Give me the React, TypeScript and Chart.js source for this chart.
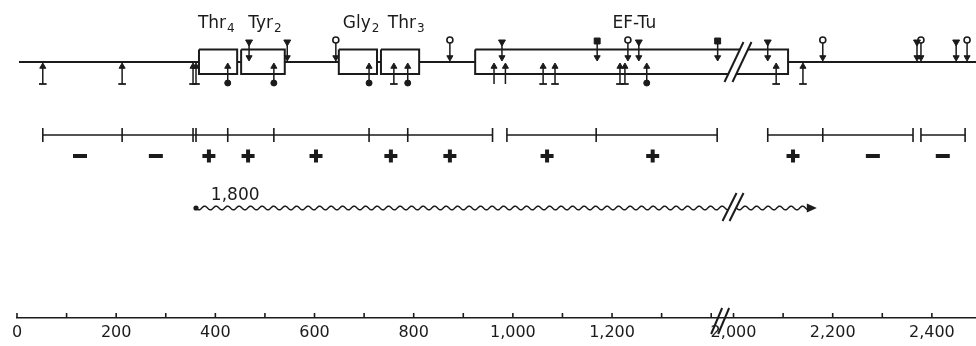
import { useEffect, useRef } from 'react';
import { Chart, registerables } from 'chart.js';

Chart.register(...registerables);

const INK = '#1b1b1b';

// ---------- data (positions in base pairs) ----------
const axisLabelTicks = [0, 200, 400, 600, 800, 1000, 1200, 2000, 2200, 2400];
const axisMinorTicks = [0, 100, 200, 300, 400, 500, 600, 700, 800, 900, 1000, 1100, 1200, 1300, 1400, 2000, 2100, 2200, 2300, 2400];
const axisBreak = 1418;

const geneStart = 4;
const geneEnd = 2489;
const geneNames = ['Thr', 'Tyr', 'Gly', 'Thr', 'EF-Tu'];
const geneSubscripts = ['4', '2', '2', '3', ''];
const geneStarts = [367, 452, 649, 734, 924];
const geneEnds = [444, 540, 726, 811, 2110];
const geneLabelCenters = [402, 500, 694, 785, 1245];
const geneBreak = 2009;

const upSites = [52, 212, 355, 361, 425, 518, 710, 760, 788, 962, 985, 1061, 1085, 1216, 1226, 1270, 2086, 2140];
const upTails = ['bar', 'bar', 'bar', 'bar', 'dot', 'dot', 'dot', 'bar', 'dot', 'none', 'none', 'bar', 'bar', 'bar', 'bar', 'dot', 'bar', 'bar'];
const downSites = [468, 545, 643, 873, 978, 1170, 1232, 1254, 1413, 2069, 2180, 2370, 2378, 2449, 2471];
const downHeads = ['tri', 'tri', 'circ', 'circ', 'tri', 'sq', 'circ', 'tri', 'sq', 'tri', 'circ', 'tri', 'circ', 'tri', 'circ'];

const fragmentRuns = [
  [52, 212, 355, 361, 425, 518, 710, 788, 959],
  [988, 1168, 1412],
  [2069, 2180, 2362],
  [2378, 2467],
];
const chargePositions = [127, 280, 387, 466, 603, 754, 873, 1069, 1282, 2120, 2281, 2422];
const chargeSigns = ['-', '-', '+', '+', '+', '+', '+', '+', '+', '+', '-', '-'];

const transcriptStart = 361;
const transcriptEnd = 2168;
const transcriptLabel = '1,800';
const transcriptLabelCenter = 440;
const transcriptBreak = 1999;

// ---------- layout (vertical levels, chart y units) ----------
const Y_LABEL = 28;
const Y_TAIL = 41;
const Y_DOWN_TIP = 61;
const Y_GENE = 62;
const Y_BOX_TOP = 49.5;
const Y_BOX_BOT = 74;
const Y_UP_TIP = 63;
const Y_UP_BASE = 84;
const Y_FRAG = 135;
const Y_SIGN = 156;
const Y_WAVE_LABEL = 200;
const Y_WAVE = 208;
const Y_AXIS = 318;

// axis break: stretch 1400..2000 bp is collapsed
const toDisp = (r: number) => (r > 1700 ? r - 555 : r);
const toReal = (d: number) => (d > 1440 ? d + 555 : d);

type Pt = { x: number; y: number | null };
const pt = (r: number, y: number | null): Pt => ({ x: toDisp(r), y });

function buildGeneLine(): Pt[] {
  const out: Pt[] = [];
  const starts = [geneStart, ...geneEnds];
  const ends = [...geneStarts, geneEnd];
  starts.forEach((s, i) => {
    out.push(pt(s, Y_GENE), pt(ends[i], Y_GENE), pt(ends[i], null));
  });
  return out;
}

function buildBoxes(): Pt[] {
  const out: Pt[] = [];
  geneStarts.forEach((s, i) => {
    const e = geneEnds[i];
    out.push(pt(s, Y_BOX_TOP), pt(e, Y_BOX_TOP), pt(e, Y_BOX_BOT), pt(s, Y_BOX_BOT), pt(s, Y_BOX_TOP), pt(s, null));
  });
  return out;
}

function stems(sites: number[], a: number, b: number): Pt[] {
  const out: Pt[] = [];
  sites.forEach((s) => out.push(pt(s, a), pt(s, b), pt(s, null)));
  return out;
}

const lineDs = (data: Pt[], width: number) => ({
  data,
  showLine: true,
  spanGaps: false,
  borderColor: INK,
  borderWidth: width,
  pointRadius: 0,
  borderCapStyle: 'butt',
  borderJoinStyle: 'miter',
  fill: false,
  clip: false,
  order: 5,
});

const pointDs = (data: Pt[], style: string, radius: number, rotation: number, fillColor: string, bw: number) => ({
  data,
  showLine: false,
  pointStyle: style,
  pointRadius: radius,
  pointHoverRadius: radius,
  pointRotation: rotation,
  pointBackgroundColor: fillColor,
  pointBorderColor: INK,
  pointBorderWidth: bw,
  clip: false,
  order: 1,
});

function slashes(ctx: CanvasRenderingContext2D, cx: number, cy: number, halfH: number, dx: number, gap: number, erase: boolean) {
  ctx.save();
  if (erase) {
    ctx.fillStyle = '#ffffff';
    ctx.beginPath();
    ctx.moveTo(cx - gap / 2 - dx, cy + halfH);
    ctx.lineTo(cx + gap / 2 - dx, cy + halfH);
    ctx.lineTo(cx + gap / 2 + dx, cy - halfH);
    ctx.lineTo(cx - gap / 2 + dx, cy - halfH);
    ctx.closePath();
    ctx.fill();
  }
  ctx.strokeStyle = INK;
  ctx.lineWidth = 2;
  ctx.lineCap = 'butt';
  [-gap / 2, gap / 2].forEach((o) => {
    ctx.beginPath();
    ctx.moveTo(cx + o - dx, cy + halfH);
    ctx.lineTo(cx + o + dx, cy - halfH);
    ctx.stroke();
  });
  ctx.restore();
}

const decorPlugin = {
  id: 'decor',
  afterDatasetsDraw(chart: any) {
    const { ctx } = chart;
    const xs = chart.scales.x;
    const ys = chart.scales.y;
    const X = (r: number) => xs.getPixelForValue(toDisp(r));
    const Yp = (v: number) => ys.getPixelForValue(v);

    // transcript (wavy arrow)
    const sx = X(transcriptStart);
    const ex = X(transcriptEnd);
    const wy = Yp(Y_WAVE);
    const bx = X(transcriptBreak);
    ctx.save();
    ctx.strokeStyle = INK;
    ctx.lineWidth = 1.5;
    ctx.beginPath();
    const endWave = ex - 8;
    for (let px = sx; px <= endWave; px += 0.5) {
      const yy = wy + 1.8 * Math.sin(((px - sx) / 11.5) * Math.PI * 2);
      if (px === sx) ctx.moveTo(px, yy);
      else ctx.lineTo(px, yy);
    }
    ctx.stroke();
    ctx.fillStyle = INK;
    ctx.beginPath();
    ctx.arc(sx, wy, 2.6, 0, Math.PI * 2);
    ctx.fill();
    ctx.beginPath();
    ctx.moveTo(ex, wy);
    ctx.lineTo(ex - 10, wy - 4.5);
    ctx.lineTo(ex - 10, wy + 4.5);
    ctx.closePath();
    ctx.fill();
    ctx.restore();
    slashes(ctx, bx, Yp(Y_WAVE - 1), 14, 7, 7, true);

    // gene-map break and axis break
    slashes(ctx, X(geneBreak), Yp(Y_GENE), 20, 9.5, 8, true);
    slashes(ctx, X(axisBreak), Yp(Y_AXIS + 3), 13, 5.5, 7, false);

    // labels
    ctx.save();
    ctx.fillStyle = INK;
    ctx.textBaseline = 'alphabetic';
    ctx.textAlign = 'left';
    const mainFont = '17px "DejaVu Sans"';
    const subFont = '12px "DejaVu Sans"';
    geneNames.forEach((name, i) => {
      ctx.font = mainFont;
      const w1 = ctx.measureText(name).width;
      ctx.font = subFont;
      const w2 = geneSubscripts[i] ? ctx.measureText(geneSubscripts[i]).width + 1 : 0;
      const left = X(geneLabelCenters[i]) - (w1 + w2) / 2;
      ctx.font = mainFont;
      ctx.fillText(name, left, Yp(Y_LABEL));
      if (geneSubscripts[i]) {
        ctx.font = subFont;
        ctx.fillText(geneSubscripts[i], left + w1 + 1, Yp(Y_LABEL + 4));
      }
    });
    ctx.font = '17px "DejaVu Sans"';
    ctx.textAlign = 'center';
    ctx.fillText(transcriptLabel, X(transcriptLabelCenter), Yp(Y_WAVE_LABEL));
    ctx.restore();
  },
};

export default function App() {
  const ref = useRef<HTMLCanvasElement>(null);

  useEffect(() => {
    const canvas = ref.current;
    if (!canvas) return;

    const fragLines: Pt[] = [];
    const fragTicks: Pt[] = [];
    fragmentRuns.forEach((run) => {
      fragLines.push(pt(run[0], Y_FRAG), pt(run[run.length - 1], Y_FRAG), pt(run[0], null));
      run.forEach((p) => fragTicks.push(pt(p, Y_FRAG)));
    });

    const upHeadR = 3.5;
    const downHeadR = 3.5;

    const datasets: any[] = [
      // symbols (drawn on top)
      pointDs(upSites.map((s) => pt(s, Y_UP_TIP + upHeadR)), 'triangle', upHeadR, 0, INK, 1),
      pointDs(downSites.map((s) => pt(s, Y_DOWN_TIP - downHeadR)), 'triangle', downHeadR, 180, INK, 1),
      pointDs(upSites.filter((_, i) => upTails[i] === 'bar').map((s) => pt(s, Y_UP_BASE)), 'line', 3.8, 0, INK, 1.8),
      pointDs(upSites.filter((_, i) => upTails[i] === 'dot').map((s) => pt(s, Y_UP_BASE - 1)), 'circle', 3, 0, INK, 1),
      pointDs(downSites.filter((_, i) => downHeads[i] === 'tri').map((s) => pt(s, Y_TAIL + 1)), 'triangle', 4, 180, INK, 1),
      pointDs(downSites.filter((_, i) => downHeads[i] === 'circ').map((s) => pt(s, Y_TAIL - 1)), 'circle', 3, 0, '#ffffff', 1.6),
      pointDs(downSites.filter((_, i) => downHeads[i] === 'sq').map((s) => pt(s, Y_TAIL)), 'rect', 4.2, 0, INK, 1),
      pointDs(fragTicks, 'line', 7, 90, INK, 1.6),
      pointDs(chargePositions.filter((_, i) => chargeSigns[i] === '+').map((s) => pt(s, Y_SIGN)), 'cross', 6.5, 0, INK, 4),
      pointDs(chargePositions.filter((_, i) => chargeSigns[i] === '-').map((s) => pt(s, Y_SIGN)), 'line', 7, 0, INK, 4),
      pointDs(axisMinorTicks.map((s) => pt(s, Y_AXIS - 2.5)), 'line', 2.5, 90, INK, 1.6),
      // lines
      lineDs(buildGeneLine(), 2),
      lineDs(buildBoxes(), 2),
      lineDs(stems(upSites, Y_UP_BASE, Y_UP_TIP + 3), 1.5),
      lineDs(stems(downSites, Y_TAIL, Y_DOWN_TIP - 3), 1.5),
      lineDs(fragLines, 1.6),
    ];

    const chart = new Chart(canvas, {
      type: 'scatter',
      data: { datasets },
      plugins: [decorPlugin],
      options: {
        animation: false,
        responsive: false,
        events: [],
        layout: { autoPadding: false, padding: { left: 17, right: 0, top: 0, bottom: 0 } },
        plugins: { legend: { display: false }, tooltip: { enabled: false } },
        scales: {
          x: {
            type: 'linear',
            min: 0,
            max: 1934,
            afterBuildTicks: (scale: any) => {
              scale.ticks = axisLabelTicks.map((v) => ({ value: toDisp(v) }));
            },
            afterFit: (scale: any) => {
              scale.height = 346 - Y_AXIS;
            },
            ticks: {
              autoSkip: false,
              maxRotation: 0,
              padding: 5,
              color: INK,
              font: { family: 'DejaVu Sans', size: 16 },
              callback: (v: any) => Number(toReal(Number(v))).toLocaleString('en-US'),
            },
            grid: { display: true, drawOnChartArea: false, drawTicks: false },
            border: { display: true, color: INK, width: 1.6 },
          },
          y: {
            type: 'linear',
            display: false,
            reverse: true,
            min: 0,
            max: Y_AXIS,
          },
        },
      } as any,
    });

    return () => chart.destroy();
  }, []);

  return (
    <div style={{ position: 'absolute', left: 0, top: 0, width: 976, height: 346, background: '#ffffff' }}>
      <canvas ref={ref} width={976} height={346} style={{ display: 'block', width: 976, height: 346 }} />
    </div>
  );
}
